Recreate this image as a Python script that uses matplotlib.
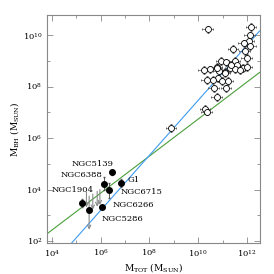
import numpy as np
import matplotlib
matplotlib.use("Agg")
import matplotlib.pyplot as plt
from matplotlib.ticker import FixedLocator, NullFormatter

plt.rcParams['font.family'] = ['DejaVu Serif']
plt.rcParams['mathtext.fontset'] = 'dejavuserif'

# galaxies: log M_tot, log M_BH
gal_logm = np.array([10.39, 12.16, 12.10, 12.06, 11.86, 12.13, 11.42, 11.90, 11.99,
                     10.94, 11.14, 11.49, 11.58, 10.76, 10.22, 10.49, 10.83, 11.10,
                     11.31, 11.51, 11.83, 10.35, 10.80, 10.97, 11.21, 10.63, 11.14,
                     10.76, 10.28, 10.35, 8.88, 11.70, 11.36, 10.61, 11.09, 10.75,
                     11.98])
gal_logbh = np.array([10.22, 10.32, 9.99, 9.78, 9.68, 9.57, 9.45, 9.39, 9.10,
                      8.99, 8.94, 8.99, 8.84, 8.77, 8.64, 8.67, 8.62, 8.58,
                      8.71, 8.67, 8.71, 8.26, 8.32, 8.23, 8.23, 7.93, 7.93,
                      7.59, 7.12, 7.03, 6.40, 8.64, 8.84, 8.26, 8.52, 8.71,
                      8.77])

# globular clusters
gc_names = ["NGC1904", "NGC5286", "NGC6266", "NGC6388", "NGC6715", "NGC5139", "G1"]
gc_logm = np.array([5.24, 5.53, 6.04, 6.12, 6.34, 6.46, 6.82])
gc_logbh = np.array([3.48, 3.19, 3.31, 4.23, 3.97, 4.67, 4.26])
gc_yerr = np.array([0.15, 0.0, 0.0, 0.25, 0.3, 0.1, 0.15])
# label offsets (points) and alignment
gc_dx = [-6.5, 9.0, 8.0, -15.5, 8.5, -14.0, 5.0]
gc_dy = [9.0, -6.5, 1.5, 6.0, -1.5, 6.3, 1.7]
gc_ha = ["center", "left", "left", "center", "left", "center", "left"]

# upper limits
ul_logm = np.array([5.42, 5.53, 5.68, 5.86, 5.97])
ul_logtop = np.array([3.90, 3.74, 3.82, 3.93, 4.00])
ul_len = np.array([0.6, 1.3, 0.6, 0.6, 0.6])

# fits: log y = a + b (log x - 8)
green_a, green_b = 5.30, 0.72
blue_a, blue_b = 5.33, 1.07

major_x = [1e4, 1e6, 1e8, 1e10, 1e12]
minor_x = [1e5, 1e7, 1e9, 1e11]
major_y = [1e2, 1e4, 1e6, 1e8, 1e10]
minor_y = [1e3, 1e5, 1e7, 1e9]

fig = plt.figure(figsize=(2.74, 2.74), dpi=100)
ax = fig.add_axes([0.173, 0.113, 0.775, 0.832])
ax.set_xscale('log')
ax.set_yscale('log')
ax.set_xlim(10**3.82, 10**12.52)
ax.set_ylim(10**1.92, 10**10.78)

lx = np.linspace(3.82, 12.52, 50)
ax.plot(10**lx, 10**(green_a + green_b * (lx - 8)), color='#4a9e3a', lw=0.8, zorder=2)
ax.plot(10**lx, 10**(blue_a + blue_b * (lx - 8)), color='#3d9bf0', lw=0.8, zorder=2)

gx = 10**gal_logm
gy = 10**gal_logbh
ax.errorbar(gx, gy,
            xerr=[gx * (1 - 10**-0.22), gx * (10**0.22 - 1)],
            yerr=[gy * (1 - 10**-0.15), gy * (10**0.15 - 1)],
            fmt='o', ms=4.3, mfc='white', mec='black', mew=0.6,
            ecolor='#555555', elinewidth=0.5, capsize=1.0, capthick=0.5, zorder=3)

for m, top, ln in zip(ul_logm, ul_logtop, ul_len):
    ax.annotate('', xy=(10**m, 10**(top - ln)), xytext=(10**m, 10**top),
                arrowprops=dict(arrowstyle='->', color='#8a8a8a', lw=0.8,
                                shrinkA=0, shrinkB=0, mutation_scale=6), zorder=2)

cx = 10**gc_logm
cy = 10**gc_logbh
ax.errorbar(cx, cy, yerr=[cy * (1 - 10**-gc_yerr), cy * (10**gc_yerr - 1)],
            fmt='o', ms=4, mfc='black', mec='black', ecolor='#555555',
            elinewidth=0.7, capsize=1.0, zorder=4)
for name, x, y, dx, dy, ha in zip(gc_names, cx, cy, gc_dx, gc_dy, gc_ha):
    ax.annotate(name, (x, y), xytext=(dx, dy), textcoords='offset points',
                ha=ha, va='center', fontsize=6.0)

ax.xaxis.set_major_locator(FixedLocator(major_x))
ax.xaxis.set_minor_locator(FixedLocator(minor_x))
ax.yaxis.set_major_locator(FixedLocator(major_y))
ax.yaxis.set_minor_locator(FixedLocator(minor_y))
ax.xaxis.set_minor_formatter(NullFormatter())
ax.yaxis.set_minor_formatter(NullFormatter())
ax.tick_params(which='both', direction='in', top=True, right=True,
               color='#888888', labelsize=6, width=0.6)
ax.tick_params(which='major', length=4)
ax.tick_params(which='minor', length=2.5)
for s in ax.spines.values():
    s.set_color('#888888')
    s.set_linewidth(0.8)

ax.set_xlabel(r'M$_{\rm TOT}$ (M$_{\rm SUN}$)', fontsize=6.5, labelpad=1)
ax.set_ylabel(r'M$_{\rm BH}$ (M$_{\rm SUN}$)', fontsize=6.5, labelpad=1)

fig.savefig('out.png', dpi=100)
